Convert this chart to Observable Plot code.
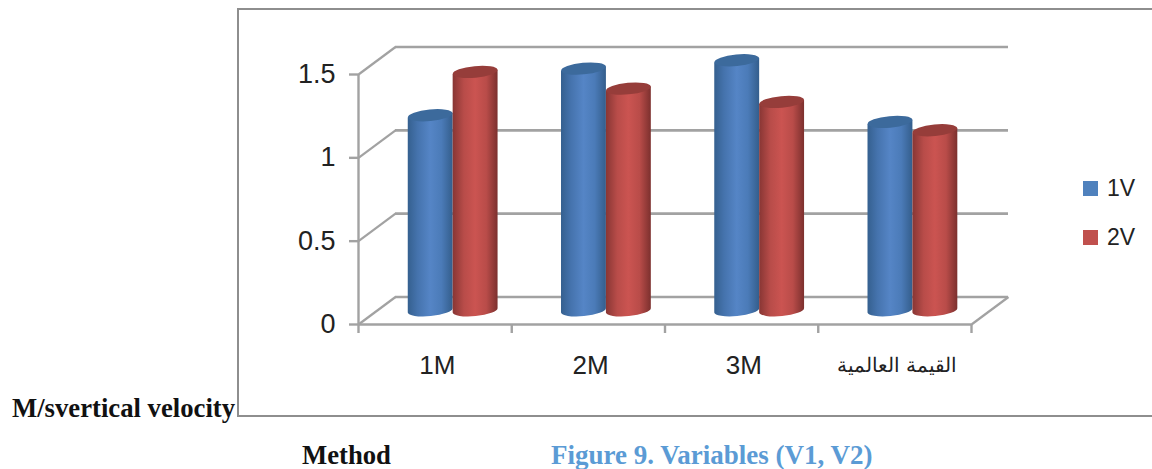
<!DOCTYPE html>
<html>
<head>
<meta charset="utf-8">
<script src="https://cdn.jsdelivr.net/npm/d3@7"></script>
<script src="https://cdn.jsdelivr.net/npm/@observablehq/plot@0.6"></script>
<style>
  html, body { margin: 0; background: #fff; overflow: hidden; }
  #page { position: relative; width: 1152px; height: 469px; font-family: "Liberation Sans", Arial, sans-serif; }
  #border { position: absolute; left: 237px; top: 8px; width: 915px; height: 405px;
            border: 2.5px solid #8e8e8e; border-right: none; box-sizing: content-box; }
  #chart { position: absolute; left: 0; top: 0; }
  .swatch { position: absolute; left: 1083px; width: 15px; height: 15px; }
  .key { position: absolute; left: 1107px; font-size: 23px; line-height: 26px; color: #222; }
  .caption { position: absolute; font-family: "Liberation Serif", "Times New Roman", serif;
             font-weight: bold; font-size: 26.7px; line-height: 28px; white-space: nowrap; color: #111; }
</style>
</head>
<body>
<div id="page">
  <div id="border"></div>
  <div id="chart"></div>
  <div class="swatch" style="top:181px;background:#4f81bd"></div>
  <div class="key" style="top:175px">1V</div>
  <div class="swatch" style="top:230px;background:#c0504d"></div>
  <div class="key" style="top:224px">2V</div>
  <div class="caption" style="left:12px;top:394px">M/svertical velocity</div>
  <div class="caption" style="left:302px;top:441px">Method</div>
  <div class="caption" style="left:551px;top:441px;color:#5b9bd5;font-size:27px">Figure 9. Variables (V1, V2)</div>
</div>
<script>
// Measured velocities for each method and the reference value
const categories = ["1M", "2M", "3M", "القيمة العالمية"];
const v1Values = [1.17, 1.45, 1.5, 1.13];
const v2Values = [1.43, 1.33, 1.25, 1.08];
const yTicks = [0, 0.5, 1, 1.5];
const xBoundaries = [0, 1, 2, 3, 4];

// Oblique projection: how far the back wall sits behind the front plane, in data units
const depthX = 0.2414;
const depthY = 0.165;
const barWidth = 0.293;

const bars = categories.flatMap((c, i) => [
  {i, series: 0, value: v1Values[i]},
  {i, series: 1, value: v2Values[i]}
]);

const grey = "#a2a2a2";

// Horizontal shading that makes each bar read as a cylinder
function gradients() {
  const defs = d3.create("svg:defs");
  const ramps = [
    [[0, "#35608f"], [0.22, "#4573ad"], [0.5, "#5585c6"], [0.75, "#4b7bb8"], [1, "#345e8c"]],
    [[0, "#883634"], [0.25, "#b84c49"], [0.5, "#cb5451"], [0.75, "#b94c49"], [1, "#7c302e"]]
  ];
  ramps.forEach((stops, s) => {
    const g = defs.append("linearGradient").attr("id", `cyl${s}`);
    for (const [o, c] of stops) g.append("stop").attr("offset", o).attr("stop-color", c);
  });
  return defs.node();
}

// Turns the rectangles of a rect mark into tilted cylinders with a darker cap
function cylinders(index, scales, values, dimensions, context, next) {
  const g = next(index, scales, values, dimensions, context);
  const sel = d3.select(g);
  const caps = ["#3c6a9c", "#963d3a"];
  const tilt = 5.5 * Math.PI / 180;
  sel.selectAll("rect").remove();
  for (const i of index) {
    const x1 = values.x1[i], x2 = values.x2[i];
    const top = values.y2[i], base = values.y1[i];
    const rx = (x2 - x1) / 2, ry = 5.8, cx = (x1 + x2) / 2;
    const lift = rx * Math.sin(tilt);
    const rot = -tilt * 180 / Math.PI;
    sel.append("path")
      .attr("fill", `url(#cyl${bars[i].series})`)
      .attr("stroke", "none")
      .attr("d", `M${x1},${top + lift}L${x1},${base + lift}` +
                 `A${rx},${ry} ${rot} 0 0 ${x2},${base - lift}` +
                 `L${x2},${top - lift}Z`);
    sel.append("ellipse")
      .attr("cx", 0).attr("cy", 0).attr("rx", rx).attr("ry", ry)
      .attr("fill", caps[bars[i].series])
      .attr("stroke", "none")
      .attr("transform", `translate(${cx},${top}) rotate(${rot})`);
  }
  return g;
}

const plot = Plot.plot({
  width: 1152,
  height: 420,
  marginLeft: 358,
  marginRight: 181,
  marginTop: 74,
  marginBottom: 96,
  style: {background: "transparent", fontFamily: "'Liberation Sans', Arial, sans-serif", overflow: "visible"},
  x: {type: "linear", domain: [0, 4]},
  y: {type: "linear", domain: [0, 1.5]},
  marks: [
    gradients,
    // back wall gridlines and floor edge
    Plot.ruleY(yTicks, {y: d => d + depthY, x1: depthX, x2: 4 + depthX, stroke: grey, strokeWidth: 2.6}),
    // side wall connectors
    Plot.link(yTicks, {x1: 0, y1: d => d, x2: depthX, y2: d => d + depthY, stroke: grey, strokeWidth: 2.2}),
    Plot.link([4], {x1: d => d, y1: 0, x2: d => d + depthX, y2: depthY, stroke: grey, strokeWidth: 2.2}),
    // front plane axis lines
    Plot.ruleX([0], {y1: 0, y2: 1.5, stroke: grey, strokeWidth: 2.4}),
    Plot.ruleY([0], {x1: 0, x2: 4, stroke: grey, strokeWidth: 2.6}),
    Plot.axisY({
      ticks: yTicks, tickSize: 9, tickPadding: 14, label: null, tickFormat: d => d,
      stroke: grey, strokeWidth: 2.4, fontSize: 27, fill: "#222"
    }),
    Plot.axisX({
      ticks: xBoundaries, tickSize: 9, label: null, tickFormat: () => "",
      stroke: grey, strokeWidth: 2.4
    }),
    // cylinders stand halfway between the front plane and the back wall
    Plot.rectY(bars, {
      x1: d => d.i + 0.5 + depthX / 2 + (d.series - 1) * barWidth - 0.003,
      x2: d => d.i + 0.5 + depthX / 2 + d.series * barWidth - 0.003,
      y1: depthY / 2,
      y2: d => d.value + depthY / 2,
      render: cylinders
    }),
    Plot.text(categories, {
      x: (d, i) => i + 0.515,
      y: 0,
      dy: 41,
      text: d => d,
      fontSize: d => d.length > 3 ? 20 : 26,
      fill: "#222"
    })
  ]
});
document.getElementById("chart").append(plot);
</script>
</body>
</html>
